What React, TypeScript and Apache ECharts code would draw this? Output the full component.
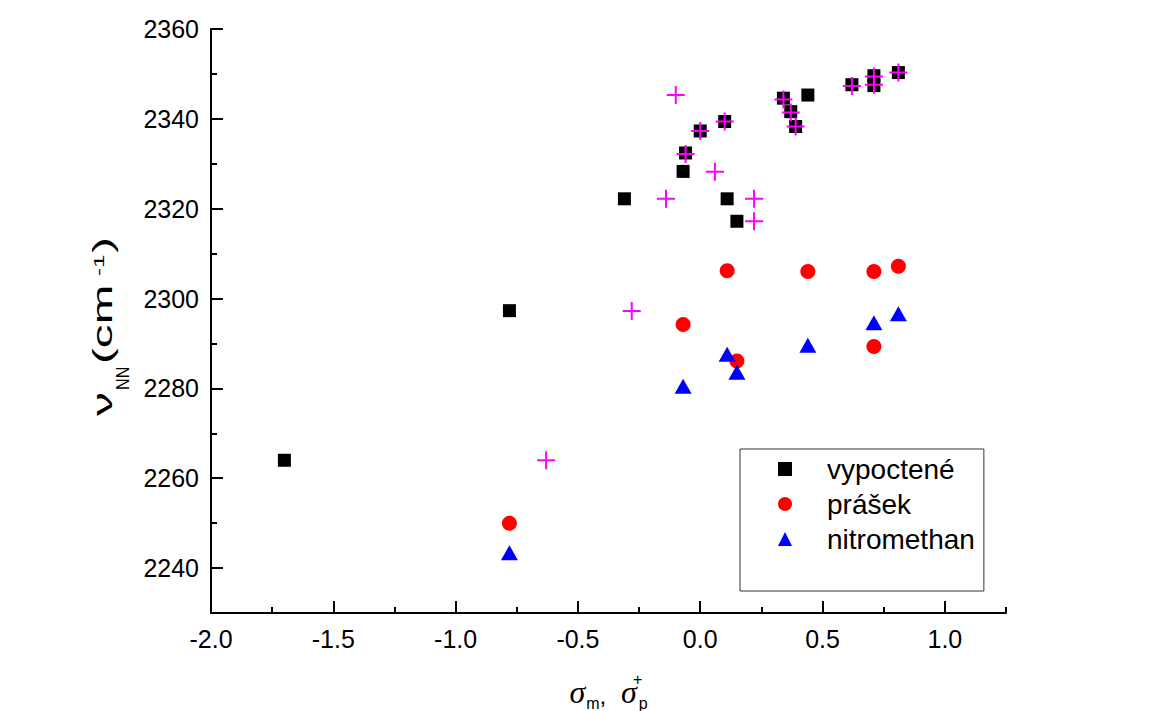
import React, { useEffect, useRef } from "react";
import * as echarts from "echarts";

// ---- data ----
const vypX = [-1.70, -0.78, -0.31, -0.07, -0.06, 0.00, 0.10, 0.11, 0.15, 0.34, 0.37, 0.39, 0.44, 0.62, 0.71, 0.71, 0.81];
const vypY = [2264, 2297.3, 2322.2, 2328.3, 2332.4, 2337.3, 2339.4, 2322.2, 2317.2, 2344.6, 2341.6, 2338.3, 2345.3, 2347.6, 2349.6, 2347.4, 2350.3];

const crossX = [-0.63, -0.28, -0.14, -0.10, 0.06, 0.22, 0.22, -0.06, 0.00, 0.10, 0.34, 0.37, 0.39, 0.62, 0.71, 0.71, 0.81];
const crossY = [2264, 2297.2, 2322.2, 2345.3, 2328.2, 2322.2, 2317.2, 2332.2, 2337.3, 2339.4, 2344.3, 2341.4, 2338.3, 2347.3, 2349.4, 2347.6, 2350.3];

const prasekX = [-0.78, -0.07, 0.11, 0.15, 0.44, 0.71, 0.71, 0.81];
const prasekY = [2250, 2294.2, 2306.2, 2286.1, 2306, 2306, 2289.3, 2307.2];

const nitroX = [-0.78, -0.07, 0.11, 0.15, 0.44, 0.71, 0.81];
const nitroY = [2243.4, 2280.5, 2287.6, 2283.6, 2289.6, 2294.6, 2296.6];

const seriesNames = ["vypoctené", "prášek", "nitromethan"];

const xMajor = [-2, -1.5, -1, -0.5, 0, 0.5, 1];
const xMinor = [-1.75, -1.25, -0.75, -0.25, 0.25, 0.75, 1.25];
const yMajor = [2240, 2260, 2280, 2300, 2320, 2340, 2360];
const yMinor = [2250, 2270, 2290, 2310, 2330, 2350];

const zip = (xs: number[], ys: number[]) => xs.map((x, i) => [x, ys[i]]);

const SANS = 'Arial, "Liberation Sans", sans-serif';
const SERIF = '"Liberation Serif", "Times New Roman", serif';

export default function App() {
  const ref = useRef<HTMLDivElement>(null);
  useEffect(() => {
    if (!ref.current) return;
    const chart = echarts.init(ref.current, null, { renderer: "svg" });
    const axisLine = { show: true, onZero: false, lineStyle: { color: "#000", width: 2 } };
    const tStyle = (text: string, fontSize: number) => ({
      text,
      fontSize,
      fontFamily: SANS,
      fill: "#000",
      align: "left",
      verticalAlign: "middle",
    });
    chart.setOption({
      animation: false,
      backgroundColor: "#fff",
      grid: { left: 211, right: 147, top: 29, bottom: 98, containLabel: false, outerBoundsMode: "none" },
      xAxis: [
        {
          type: "value",
          min: -2,
          max: 1.25,
          position: "bottom",
          axisLine,
          splitLine: { show: false },
          axisTick: { show: true, inside: true, length: 12, lineStyle: { color: "#000", width: 2 }, customValues: xMajor },
          axisLabel: {
            customValues: xMajor,
            formatter: (v: number) => v.toFixed(1),
            fontSize: 25,
            color: "#000",
            fontFamily: SANS,
            margin: 13,
          },
          name: "{s|σ}{m|m}{c|, }{s|σ}{sp|+}{p|p}",
          nameLocation: "middle",
          nameGap: 57,
          nameTextStyle: {
            color: "#000",
            fontFamily: SANS,
            rich: {
              s: { fontFamily: SERIF, fontStyle: "italic", fontSize: 32, lineHeight: 32, verticalAlign: "top", padding: [6, 0, 0, 0], color: "#000" },
              m: { fontFamily: SANS, fontSize: 16, lineHeight: 16, verticalAlign: "top", padding: [25, 0, 0, 1], color: "#000" },
              c: { fontFamily: SANS, fontSize: 24, lineHeight: 24, verticalAlign: "top", padding: [13, 8, 0, 0], color: "#000" },
              sp: { fontFamily: SANS, fontSize: 16, lineHeight: 16, verticalAlign: "top", padding: [1, 0, 0, 1], width: 0, color: "#000" },
              p: { fontFamily: SANS, fontSize: 16, lineHeight: 16, verticalAlign: "top", padding: [25, 0, 0, 1], color: "#000" },
            },
          },
        },
        {
          type: "value",
          min: -2,
          max: 1.25,
          position: "bottom",
          axisLine: { show: false, onZero: false },
          splitLine: { show: false },
          axisTick: { show: true, inside: true, length: 6, lineStyle: { color: "#000", width: 2 }, customValues: xMinor },
          axisLabel: { show: false },
        },
      ],
      yAxis: [
        {
          type: "value",
          min: 2230,
          max: 2360,
          position: "left",
          axisLine,
          splitLine: { show: false },
          axisTick: { show: true, inside: true, length: 12, lineStyle: { color: "#000", width: 2 }, customValues: yMajor },
          axisLabel: {
            customValues: yMajor,
            formatter: (v: number) => String(v),
            fontSize: 25,
            color: "#000",
            fontFamily: SANS,
            margin: 12,
          },
        },
        {
          type: "value",
          min: 2230,
          max: 2360,
          position: "left",
          axisLine: { show: false, onZero: false },
          splitLine: { show: false },
          axisTick: { show: true, inside: true, length: 6, lineStyle: { color: "#000", width: 2 }, customValues: yMinor },
          axisLabel: { show: false },
        },
      ],
      graphic: [
        {
          type: "group",
          x: 112,
          y: 416,
          rotation: Math.PI / 2,
          silent: true,
          children: [
            { type: "text", x: 0, y: -9.8, scaleX: 1.7, style: tStyle("ν", 28) },
            { type: "text", x: 26, y: 11.7, scaleX: 0.9, style: tStyle("NN", 18) },
            { type: "text", x: 52, y: -9.8, scaleX: 1.7, style: tStyle("(cm", 28) },
            { type: "text", x: 140, y: -13.2, scaleX: 1.6, style: tStyle("-1", 15) },
            { type: "text", x: 163, y: -9.8, scaleX: 1.7, style: tStyle(")", 28) },
          ],
        },
      ],
      legend: {
        data: seriesNames,
        orient: "vertical",
        left: 740,
        top: 449,
        itemWidth: 14,
        itemHeight: 14,
        itemGap: 7,
        padding: [6, 9, 38, 38],
        borderColor: "#333",
        borderWidth: 1,
        backgroundColor: "#fff",
        selectedMode: false,
        textStyle: { fontSize: 28, color: "#000", fontFamily: SANS, padding: [0, 0, 0, 30] },
      },
      series: [
        {
          name: seriesNames[0],
          type: "scatter",
          symbol: "rect",
          symbolSize: 13,
          itemStyle: { color: "#000000", opacity: 1 },
          data: zip(vypX, vypY),
        },
        {
          name: seriesNames[1],
          type: "scatter",
          symbol: "circle",
          symbolSize: 15,
          itemStyle: { color: "#ff0000", opacity: 1 },
          data: zip(prasekX, prasekY),
        },
        {
          name: seriesNames[2],
          type: "scatter",
          symbol: "triangle",
          symbolSize: [17, 15],
          itemStyle: { color: "#0000ff", opacity: 1 },
          data: zip(nitroX, nitroY),
        },
        {
          name: "σ (alt.)",
          type: "scatter",
          symbol: "path://M9,0 L9,18 M0,9 L18,9",
          symbolSize: 18,
          itemStyle: { color: "transparent", borderColor: "#ff00ff", borderWidth: 2, opacity: 1 },
          data: zip(crossX, crossY),
        },
      ],
    });
    return () => chart.dispose();
  }, []);
  return <div ref={ref} style={{ position: "absolute", left: 0, top: 0, width: 1153, height: 711 }} />;
}
